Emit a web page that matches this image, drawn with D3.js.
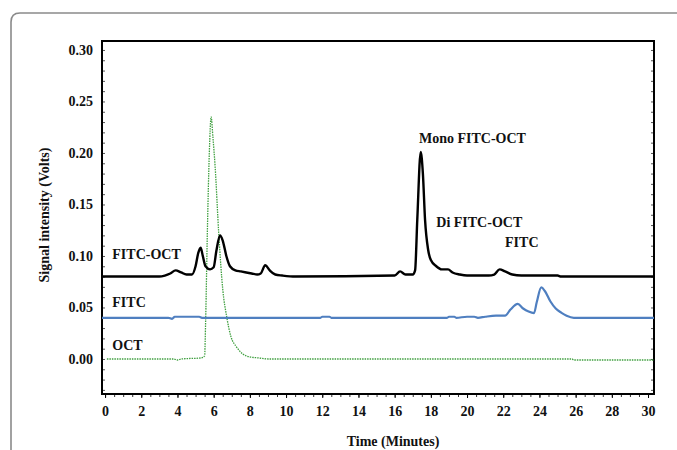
<!DOCTYPE html>
<html>
<head>
<meta charset="utf-8">
<script src="https://cdn.jsdelivr.net/npm/d3@7"></script>
<style>
  body { margin: 0; background: #fff; }
  text { font-family: "Liberation Serif", "Times New Roman", serif; font-weight: bold; fill: #111; }
</style>
</head>
<body>
<div id="chart"></div>
<script>
// chromatogram traces, [time (min), signal (V)]
const fitcOct = [
  [-0.17, 0.080], [3.0, 0.080], [3.3, 0.081], [3.6, 0.083], [3.9, 0.086], [4.2, 0.084],
  [4.5, 0.082], [4.8, 0.082], [5.0, 0.090], [5.15, 0.103], [5.28, 0.108], [5.4, 0.100],
  [5.55, 0.090], [5.8, 0.087], [6.0, 0.089], [6.15, 0.105], [6.35, 0.120], [6.5, 0.115],
  [6.7, 0.100], [6.9, 0.090], [7.2, 0.086], [7.5, 0.085], [7.8, 0.084], [8.1, 0.083],
  [8.4, 0.082], [8.6, 0.083], [8.85, 0.091], [9.1, 0.086], [9.4, 0.082], [9.8, 0.081],
  [10.5, 0.080], [16.0, 0.081], [16.3, 0.085], [16.6, 0.082], [17.0, 0.082], [17.13, 0.086],
  [17.25, 0.135], [17.44, 0.201], [17.56, 0.180], [17.68, 0.135], [17.85, 0.106], [18.0, 0.096],
  [18.3, 0.090], [18.6, 0.087], [18.95, 0.087], [19.2, 0.084], [19.6, 0.082], [20.0, 0.081],
  [21.2, 0.081], [21.5, 0.082], [21.8, 0.087], [22.1, 0.085], [22.5, 0.082], [23.0, 0.081],
  [25.0, 0.081], [25.2, 0.080], [30.33, 0.080]
];
const fitc = [
  [-0.17, 0.040], [3.5, 0.040], [3.7, 0.039], [3.85, 0.041], [5.2, 0.041], [5.35, 0.040],
  [11.9, 0.040], [12.0, 0.041], [12.4, 0.041], [12.5, 0.040], [18.9, 0.040], [19.0, 0.041],
  [19.3, 0.041], [19.4, 0.040], [20.0, 0.041], [20.4, 0.041], [20.6, 0.040], [21.0, 0.041],
  [21.6, 0.042], [22.1, 0.042], [22.4, 0.048], [22.8, 0.0535], [23.1, 0.049], [23.4, 0.046],
  [23.7, 0.0445], [23.85, 0.055], [24.1, 0.0695], [24.3, 0.066], [24.6, 0.056], [24.9, 0.049],
  [25.2, 0.045], [25.5, 0.042], [25.9, 0.040], [30.33, 0.040]
];
const oct = [
  [0.1, 0.000], [3.8, 0.000], [4.0, -0.001], [4.2, 0.000], [5.3, 0.001], [5.5, 0.003],
  [5.56, 0.040], [5.65, 0.122], [5.76, 0.200], [5.86, 0.235], [5.96, 0.215], [6.08, 0.187],
  [6.28, 0.122], [6.5, 0.068], [6.72, 0.041], [6.95, 0.022], [7.25, 0.012], [7.6, 0.005],
  [8.0, 0.002], [8.5, 0.001], [9.0, 0.000], [25.8, 0.000], [25.9, -0.001], [30.33, -0.001]
];

const xTicks = d3.range(0, 31, 2);
const yTicks = [0.00, 0.05, 0.10, 0.15, 0.20, 0.25, 0.30];

const traceLabels = [
  { text: "FITC-OCT", t: 0.4, v: 0.097, anchor: "start" },
  { text: "FITC", t: 0.4, v: 0.050, anchor: "start" },
  { text: "OCT", t: 0.4, v: 0.0085, anchor: "start" }
];
const peakLabels = [
  { text: "Mono FITC-OCT", t: 20.3, v: 0.2095, anchor: "middle" },
  { text: "Di FITC-OCT", t: 18.3, v: 0.1285, anchor: "start" },
  { text: "FITC", t: 22.1, v: 0.1085, anchor: "start" }
];

const W = 677, H = 450;
const margin = { top: 41, right: 23, bottom: 56, left: 102 };
const width = W - margin.left - margin.right;
const height = H - margin.top - margin.bottom;

const svg = d3.select("#chart").append("svg")
  .attr("width", W)
  .attr("height", H);

// card frame with rounded top-left corner
svg.append("path")
  .attr("d", "M11,452 L11,22 Q11,13 20,13 L680,13")
  .attr("fill", "none")
  .attr("stroke", "#8a8a8a")
  .attr("stroke-width", 1.6);

const g = svg.append("g")
  .attr("transform", `translate(${margin.left},${margin.top})`);

const x = d3.scaleLinear().domain([-0.17, 30.33]).range([0, width]);
const y = d3.scaleLinear().domain([-0.034, 0.3087]).range([height, 0]);

// minor ticks
g.append("g")
  .attr("transform", `translate(0,${height})`)
  .call(d3.axisBottom(x).tickValues(d3.range(0, 30.01, 0.5)).tickSize(3).tickFormat(""))
  .call(a => a.select(".domain").remove())
  .call(a => a.selectAll("line").attr("stroke", "#333"));

g.append("g")
  .call(d3.axisRight(y).tickValues(d3.range(-0.03, 0.301, 0.01)).tickSize(3).tickFormat(""))
  .call(a => a.select(".domain").remove())
  .call(a => a.selectAll("line").attr("stroke", "#555"));

g.append("g")
  .attr("transform", `translate(${width},0)`)
  .call(d3.axisLeft(y).tickValues(d3.range(-0.03, 0.301, 0.01)).tickSize(3).tickFormat(""))
  .call(a => a.select(".domain").remove())
  .call(a => a.selectAll("line").attr("stroke", "#555"));

// major ticks + labels
g.append("g")
  .attr("transform", `translate(0,${height})`)
  .call(d3.axisBottom(x).tickValues(xTicks).tickSize(4).tickPadding(8).tickFormat(d3.format("d")))
  .call(a => a.select(".domain").remove())
  .call(a => a.selectAll("text").style("font-size", "14px").attr("fill", "#111"));

g.append("g")
  .call(d3.axisLeft(y).tickValues(yTicks).tickSize(0).tickPadding(9).tickFormat(d3.format(".2f")))
  .call(a => a.select(".domain").remove())
  .call(a => a.selectAll("text").style("font-size", "14px").attr("fill", "#111"));

// plot box
g.append("rect")
  .attr("width", width)
  .attr("height", height)
  .attr("fill", "none")
  .attr("stroke", "#000")
  .attr("stroke-width", 2);

const line = d3.line()
  .x(d => x(d[0]))
  .y(d => y(d[1]))
  .curve(d3.curveMonotoneX);

g.append("path")
  .datum(oct)
  .attr("fill", "none")
  .attr("stroke", "#3f9f3f")
  .attr("stroke-width", 1.3)
  .attr("stroke-dasharray", "1.5,1")
  .attr("d", line);

g.append("path")
  .datum(fitc)
  .attr("fill", "none")
  .attr("stroke", "#4f7fc0")
  .attr("stroke-width", 2.2)
  .attr("d", line);

g.append("path")
  .datum(fitcOct)
  .attr("fill", "none")
  .attr("stroke", "#000")
  .attr("stroke-width", 2.4)
  .attr("d", line);

g.selectAll(".lbl")
  .data(traceLabels.concat(peakLabels))
  .enter().append("text")
  .attr("class", "lbl")
  .attr("x", d => x(d.t))
  .attr("y", d => y(d.v))
  .attr("text-anchor", d => d.anchor)
  .style("font-size", "14px")
  .text(d => d.text);

// axis titles
svg.append("text")
  .attr("x", 393)
  .attr("y", 446)
  .attr("text-anchor", "middle")
  .style("font-size", "14px")
  .text("Time (Minutes)");

svg.append("text")
  .attr("transform", "rotate(-90)")
  .attr("x", -215)
  .attr("y", 49)
  .attr("text-anchor", "middle")
  .style("font-size", "14px")
  .text("Signal intensity (Volts)");
</script>
</body>
</html>
